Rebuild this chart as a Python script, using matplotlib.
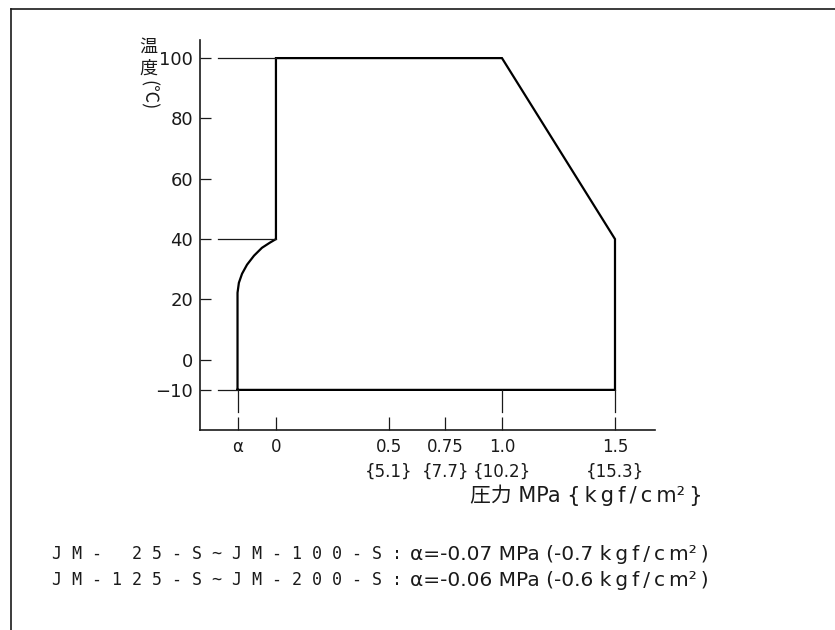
import matplotlib
matplotlib.use("Agg")
import matplotlib.pyplot as plt
from matplotlib.lines import Line2D

plt.rcParams['font.family'] = ['DejaVu Sans', 'Noto Sans CJK JP']

# operating range (pressure MPa vs temperature degC); alpha drawn at a schematic position
ALPHA_X = -0.17
BOUND_X = [ALPHA_X, ALPHA_X, -0.164, -0.150, -0.128, -0.097, -0.062, -0.027,
           0.0, 0.0, 1.0, 1.5, 1.5, ALPHA_X]
BOUND_Y = [-10, 22.2, 25.5, 28.5, 31.5, 34.5, 37.1, 38.8,
           40, 100, 100, 40, -10, -10]
LEADER_Y = [100, 40, -10]
LEADER_END = [0.0, 0.0, ALPHA_X]
EXT_X = [ALPHA_X, 1.0, 1.5]

Y_TICKS = [100, 80, 60, 40, 20, 0, -10]
Y_LABELS = ["100", "80", "60", "40", "20", "0", "\u221210"]
X_TICKS = [ALPHA_X, 0, 0.5, 0.75, 1.0, 1.5]
X_LABELS = ["\u03b1", "0", "0.5\n{5.1}", "0.75\n{7.7}", "1.0\n{10.2}", "1.5\n{15.3}"]

NOTE_PREFIX = ["JM- 25-S~JM-100-S:", "JM-125-S~JM-200-S:"]
NOTE_SUFFIX = ["\u03b1=-0.07 MPa (-0.7 ", "\u03b1=-0.06 MPa (-0.6 "]
UNIT_CHARS = ["k", "g", "f", "/", "c", "m\u00b2"]

W, H = 835, 630
INK = "#1a1a1a"
THIN = "\u2009"   # thin spaces mimic the wide drafting lettering
UNIT = THIN.join(UNIT_CHARS)

fig = plt.figure(figsize=(W / 100, H / 100), dpi=100)
ax = fig.add_axes([200 / W, (H - 430) / H, 455 / W, 390 / H])
ax.set_xlim(-0.336, 1.677)
ax.set_ylim(-23.3, 106.0)

for s in ("top", "right"):
    ax.spines[s].set_visible(False)
for s in ("left", "bottom"):
    ax.spines[s].set_linewidth(1.2)
    ax.spines[s].set_color(INK)

ax.plot(BOUND_X, BOUND_Y, color="black", lw=1.6, solid_joinstyle="miter")
# leader / extension lines (with a small break, drafting style)
for y, xe in zip(LEADER_Y, LEADER_END):
    ax.plot([-0.257, xe], [y, y], color=INK, lw=0.9)
for x in EXT_X:
    ax.plot([x, x], [-10, -17.3], color=INK, lw=0.9)

ax.set_yticks(Y_TICKS, Y_LABELS)
ax.set_xticks(X_TICKS, X_LABELS)
ax.tick_params(axis="y", direction="in", length=8, width=0.9, pad=5,
               labelsize=13, colors=INK)
ax.tick_params(axis="x", direction="in", length=9.4, width=0.9, pad=6,
               labelsize=12, colors=INK)
for lbl in ax.get_xticklabels():
    lbl.set_linespacing(1.45)

cjk = ["Noto Sans CJK JP", "DejaVu Sans"]
fig.text(148 / W, 1 - 47 / H, "温", family=cjk, fontsize=13, ha="center", va="center", color=INK)
fig.text(148 / W, 1 - 69 / H, "度", family=cjk, fontsize=13, ha="center", va="center", color=INK)
fig.text(148 / W, 1 - 95 / H, "(℃)", family=cjk, fontsize=13, rotation=270,
         ha="center", va="center", color=INK)

fig.text(470 / W, 1 - 495 / H, "圧力 MPa {" + THIN + UNIT + THIN + "}", fontsize=15,
         ha="left", va="center", color=INK)

for i, (pre, suf) in enumerate(zip(NOTE_PREFIX, NOTE_SUFFIX)):
    y = 1 - (554 + 26 * i) / H
    fig.text(52 / W, y, " ".join(pre), family="DejaVu Sans Mono", fontsize=12,
             ha="left", va="center", color=INK)
    fig.text(410 / W, y, suf + UNIT + THIN + ")", fontsize=14.5,
             ha="left", va="center", color=INK)

# drawing frame
fig.add_artist(Line2D([11 / W, 1.0], [1 - 9 / H, 1 - 9 / H], color=INK, lw=1.2))
fig.add_artist(Line2D([11 / W, 11 / W], [1 - 9 / H, 0.0], color=INK, lw=1.2))

fig.savefig("out.png", dpi=100)
